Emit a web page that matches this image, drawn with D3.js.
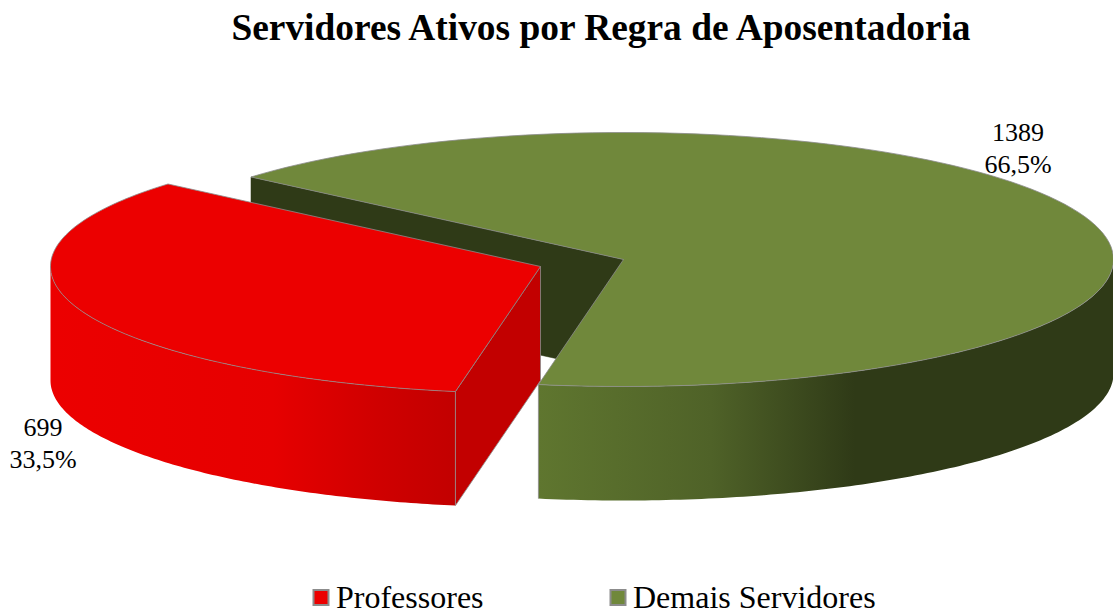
<!DOCTYPE html>
<html>
<head>
<meta charset="utf-8">
<script src="https://cdn.jsdelivr.net/npm/d3@7"></script>
<style>
    html, body { margin: 0; padding: 0; background: #fff; }
    svg { display: block; font-family: "Liberation Serif", serif; }
</style>
</head>
<body>
<svg id="chart" width="1113" height="611"></svg>
<script>
var categories = ["Professores", "Demais Servidores"]
var values = [699, 1389]
var colors = ["#ec0000", "#70883b"]
var chartTitle = "Servidores Ativos por Regra de Aposentadoria"

var dimensions = { width: 1113, height: 611, rx: 490, ry: 127, depth: 114 }
var svg = d3.select("#chart")
var defs = svg.append("defs")

var startDeg = 190
var pie = d3.pie().sort(null)
            .startAngle(startDeg * Math.PI / 180)
            .endAngle((startDeg + 360) * Math.PI / 180)
var slices = pie(values)

// unit circle to the flattened ellipse, one pair of scales per slice
var centers = [{x: 540.5, y: 266.5}, {x: 623.5, y: 259.5}]
var xScales = centers.map(c => d3.scaleLinear().domain([-1, 1]).range([c.x - dimensions.rx, c.x + dimensions.rx]))
var yScales = centers.map(c => d3.scaleLinear().domain([-1, 1]).range([c.y - dimensions.ry, c.y + dimensions.ry]))

var rimPoint = (i, a, drop) => [xScales[i](Math.sin(a)), yScales[i](-Math.cos(a)) + drop]
var centerPoint = (i, drop) => [xScales[i](0), yScales[i](0) + drop]
var sample = (a0, a1) => d3.range(0, 121).map(k => a0 + (a1 - a0) * k / 120)
var lineGen = d3.line()
var closedPath = pts => lineGen(pts) + "Z"

function topPath(i) {
    var s = slices[i]
    return closedPath([centerPoint(i, 0)].concat(sample(s.startAngle, s.endAngle).map(a => rimPoint(i, a, 0))))
}
function rimWall(i, a0, a1) {
    var angles = sample(a0, a1)
    return closedPath(angles.map(a => rimPoint(i, a, 0))
        .concat(angles.slice().reverse().map(a => rimPoint(i, a, dimensions.depth))))
}
function cutWall(i, a) {
    return closedPath([centerPoint(i, 0), rimPoint(i, a, 0), rimPoint(i, a, dimensions.depth), centerPoint(i, dimensions.depth)])
}

function addGradient(id, x1, x2, stops) {
    var g = defs.append("linearGradient").attr("id", id)
                .attr("gradientUnits", "userSpaceOnUse")
                .attr("x1", x1).attr("x2", x2).attr("y1", 0).attr("y2", 0)
    stops.forEach(s => g.append("stop").attr("offset", s[0]).attr("stop-color", s[1]))
}
addGradient("redWall", 50, 456, [[0, "#ec0000"], [0.55, "#e60000"], [0.8, "#d00000"], [1, "#c20000"]])
addGradient("greenWall", 539, 1113, [[0, "#5f762f"], [0.3, "#4f6228"], [0.55, "#2f3a17"], [1, "#2f3a17"]])

var edge = "#8c8c8c"
var g = svg.append("g")

// green slice first, the red one sits in front of it
g.append("path").attr("d", cutWall(1, slices[1].startAngle)).attr("fill", "#2f3a17").attr("stroke", "#2f3a17").attr("stroke-width", 0.5)
g.append("path").attr("d", rimWall(1, Math.PI * 2.5, slices[1].endAngle)).attr("fill", "url(#greenWall)")
g.append("path").attr("d", topPath(1)).attr("fill", colors[1]).attr("stroke", edge).attr("stroke-width", 0.8)
g.append("path").attr("d", lineGen([rimPoint(1, slices[1].endAngle, 0), rimPoint(1, slices[1].endAngle, dimensions.depth)]))
    .attr("stroke", edge).attr("stroke-width", 0.8).attr("fill", "none")

g.append("path").attr("d", rimWall(0, slices[0].startAngle, Math.PI * 1.5)).attr("fill", "url(#redWall)")
g.append("path").attr("d", cutWall(0, slices[0].startAngle)).attr("fill", "#c20000").attr("stroke", edge).attr("stroke-width", 0.8)
g.append("path").attr("d", topPath(0)).attr("fill", colors[0]).attr("stroke", edge).attr("stroke-width", 0.8)

svg.append("text")
   .attr("x", 601).attr("y", 40)
   .attr("text-anchor", "middle")
   .attr("font-size", 37.4).attr("font-weight", "bold").attr("fill", "#000")
   .text(chartTitle)

// data labels, value over percent
var total = d3.sum(values)
var pct = d3.formatLocale({decimal: ",", thousands: ".", grouping: [3], currency: ["", ""]}).format(".1%")
var labelPos = [{x: 43, y: 436}, {x: 1018, y: 141}]
values.forEach((v, i) => {
    var t = svg.append("text").attr("text-anchor", "middle").attr("font-size", 26).attr("fill", "#000")
    t.append("tspan").attr("x", labelPos[i].x).attr("y", labelPos[i].y).text(v)
    t.append("tspan").attr("x", labelPos[i].x).attr("y", labelPos[i].y + 32).text(pct(v / total))
})

var legendX = [313.5, 610.5]
categories.forEach((c, i) => {
    svg.append("rect")
       .attr("x", legendX[i]).attr("y", 590).attr("width", 15).attr("height", 15)
       .attr("fill", colors[i]).attr("stroke", "#8c8c8c").attr("stroke-width", 2)
    svg.append("text")
       .attr("x", legendX[i] + 22.5).attr("y", 608)
       .attr("font-size", 32).attr("fill", "#000")
       .text(c)
})
</script>
</body>
</html>
